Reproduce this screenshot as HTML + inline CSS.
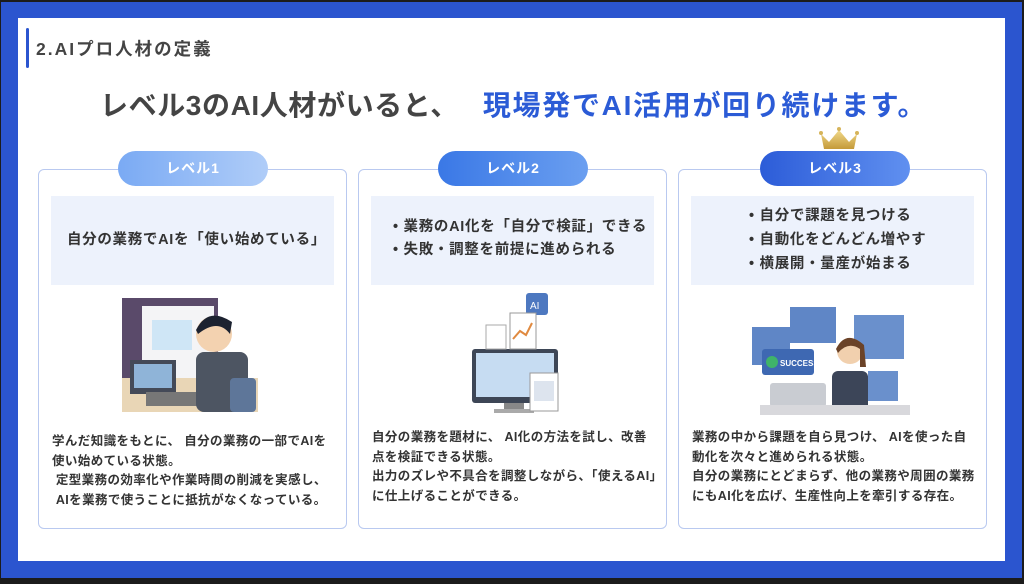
<!DOCTYPE html>
<html><head><meta charset="utf-8"><style>
*{margin:0;padding:0;box-sizing:border-box}
body{width:1024px;height:584px;background:#1c1c1c;position:relative;overflow:hidden;font-family:"Liberation Sans","Noto Sans CJK JP",sans-serif;}
.frame{position:absolute;left:1px;top:2px;width:1021px;height:576px;background:#2b55cf}
.page{position:absolute;left:18px;top:18px;width:987px;height:543px;background:#fff}
.sec{position:absolute;left:26px;top:28px;width:3px;height:40px;background:#2b55cf;border-radius:2px}
.sect{position:absolute;left:36px;top:36px;font-size:17.5px;font-weight:bold;color:#444;letter-spacing:2px}
.title{position:absolute;left:100px;top:84px;font-size:28px;font-weight:bold;color:#444;white-space:nowrap;letter-spacing:0.6px}
.title span{color:#2b5bd6;margin-left:24px;letter-spacing:1.7px}
.card{position:absolute;top:169px;width:309px;height:360px;border:1.5px solid #b9c9f0;border-radius:6px;background:#fff}
.pill{position:absolute;top:151px;width:150px;height:35px;border-radius:18px;color:#fff;font-weight:bold;font-size:14px;text-align:center;line-height:35px;letter-spacing:1px}
.box{position:absolute;top:196px;width:283px;height:89px;background:#edf2fc;color:#333;font-weight:bold;font-size:14.5px;letter-spacing:0.7px}
.body{position:absolute;font-size:12.5px;color:#333;font-weight:bold;line-height:19.5px;white-space:nowrap;letter-spacing:0.4px}
</style></head><body>
<div class="frame"></div>
<div class="page"></div>
<div class="sec"></div>
<div class="sect">2.AIプロ人材の定義</div>
<div class="title">レベル3のAI人材がいると、<span>現場発でAI活用が回り続けます。</span></div>

<div class="card" style="left:38px"></div>
<div class="card" style="left:358px"></div>
<div class="card" style="left:678px"></div>

<div class="pill" style="left:118px;background:linear-gradient(90deg,#7aaaf4,#b0cdf8)">レベル1</div>
<div class="pill" style="left:438px;background:linear-gradient(90deg,#3a78e6,#6b9ff0)">レベル2</div>
<div class="pill" style="left:760px;background:linear-gradient(90deg,#2c5cd8,#6090f0)">レベル3</div>
<svg style="position:absolute;left:817px;top:126px" width="44" height="24" viewBox="0 0 44 24">
<defs><linearGradient id="g" x1="0" y1="0" x2="0" y2="1"><stop offset="0" stop-color="#f1d98a"/><stop offset="1" stop-color="#c49a3a"/></linearGradient></defs>
<path d="M4 8 L12 16 L22 4 L32 16 L40 8 L37 23 L7 23 Z" fill="url(#g)"/>
<circle cx="4" cy="7" r="2" fill="#d6b45a"/><circle cx="22" cy="3" r="2" fill="#d6b45a"/><circle cx="40" cy="7" r="2" fill="#d6b45a"/>
</svg>

<div class="box" style="left:51px;line-height:89px;text-align:center;padding-left:8px">自分の業務でAIを「使い始めている」</div>
<div class="box" style="left:371px;padding:20px 0 0 22px;line-height:23px">• 業務のAI化を「自分で検証」できる<br>• 失敗・調整を前提に進められる</div>
<div class="box" style="left:691px;padding:8px 0 0 58px;line-height:24px">• 自分で課題を見つける<br>• 自動化をどんどん増やす<br>• 横展開・量産が始まる</div>

<!-- illus 1 -->
<svg style="position:absolute;left:118px;top:296px" width="140" height="116">
<rect x="4" y="2" width="96" height="100" fill="#5a4a6a"/>
<rect x="24" y="10" width="72" height="92" fill="#f4f4f6"/>
<rect x="34" y="24" width="40" height="30" fill="#cfe6f6"/>
<rect x="4" y="82" width="136" height="34" fill="#e9d6b6"/>
<rect x="12" y="64" width="46" height="34" fill="#444a58"/>
<rect x="16" y="68" width="38" height="24" fill="#8fb4d8"/>
<rect x="28" y="96" width="60" height="14" fill="#777"/>
<rect x="78" y="56" width="52" height="60" rx="8" fill="#4d5562"/>
<circle cx="96" cy="38" r="18" fill="#f3d2b0"/>
<path d="M78 34 Q90 10 114 26 L112 38 Q100 22 80 38Z" fill="#1c2230"/>
<rect x="112" y="82" width="26" height="34" rx="4" fill="#5e7699"/>
</svg>
<!-- illus 2 -->
<svg style="position:absolute;left:466px;top:293px" width="100" height="122">
<rect x="60" y="0" width="22" height="22" rx="3" fill="#4d78c0"/><text x="64" y="16" font-size="10" fill="#fff" font-family="Liberation Sans">AI</text>
<rect x="6" y="56" width="86" height="54" rx="3" fill="#3d4656"/>
<rect x="10" y="60" width="78" height="44" fill="#c6dcf2"/>
<rect x="38" y="110" width="20" height="6" fill="#888"/><rect x="28" y="116" width="40" height="4" fill="#aaa"/>
<rect x="20" y="32" width="20" height="24" fill="#fff" stroke="#aaa"/>
<rect x="44" y="20" width="26" height="36" fill="#fff" stroke="#999"/>
<path d="M47 46 L54 38 L60 42 L66 30" stroke="#e08a40" stroke-width="2" fill="none"/>
<rect x="64" y="80" width="28" height="38" fill="#fff" stroke="#999"/>
<rect x="68" y="88" width="20" height="20" fill="#dde4ee"/>
</svg>
<!-- illus 3 -->
<svg style="position:absolute;left:750px;top:305px" width="160" height="110">
<rect x="40" y="2" width="46" height="36" fill="#5f86c6"/>
<rect x="104" y="10" width="50" height="44" fill="#6a90cc"/>
<rect x="2" y="22" width="38" height="38" fill="#5f86c6"/>
<rect x="12" y="44" width="52" height="26" rx="3" fill="#3e68b2"/>
<circle cx="22" cy="57" r="6" fill="#3fb36a"/>
<text x="30" y="61" font-size="8" fill="#fff" font-weight="bold" font-family="Liberation Sans">SUCCESS</text>
<rect x="118" y="66" width="30" height="30" fill="#6a90cc"/>
<rect x="82" y="66" width="36" height="40" rx="6" fill="#3c4558"/>
<circle cx="100" cy="46" r="13" fill="#f1d0ae"/>
<path d="M86 44 Q96 24 114 40 L116 62 L110 62 L110 44 Q98 36 88 48Z" fill="#6b4328"/>
<rect x="20" y="78" width="56" height="24" rx="3" fill="#c9ccd2"/>
<rect x="10" y="100" width="150" height="10" fill="#d8d8dc"/>
</svg>

<div class="body" style="left:52px;top:432px">学んだ知識をもとに、 自分の業務の一部でAIを<br>使い始めている状態。<br>&nbsp;定型業務の効率化や作業時間の削減を実感し、<br>&nbsp;AIを業務で使うことに抵抗がなくなっている。</div>
<div class="body" style="left:372px;top:428px">自分の業務を題材に、 AI化の方法を試し、改善<br>点を検証できる状態。<br>出力のズレや不具合を調整しながら、「使えるAI」<br>に仕上げることができる。</div>
<div class="body" style="left:692px;top:428px">業務の中から課題を自ら見つけ、 AIを使った自<br>動化を次々と進められる状態。<br>自分の業務にとどまらず、他の業務や周囲の業務<br>にもAI化を広げ、生産性向上を牽引する存在。</div>
</body></html>
